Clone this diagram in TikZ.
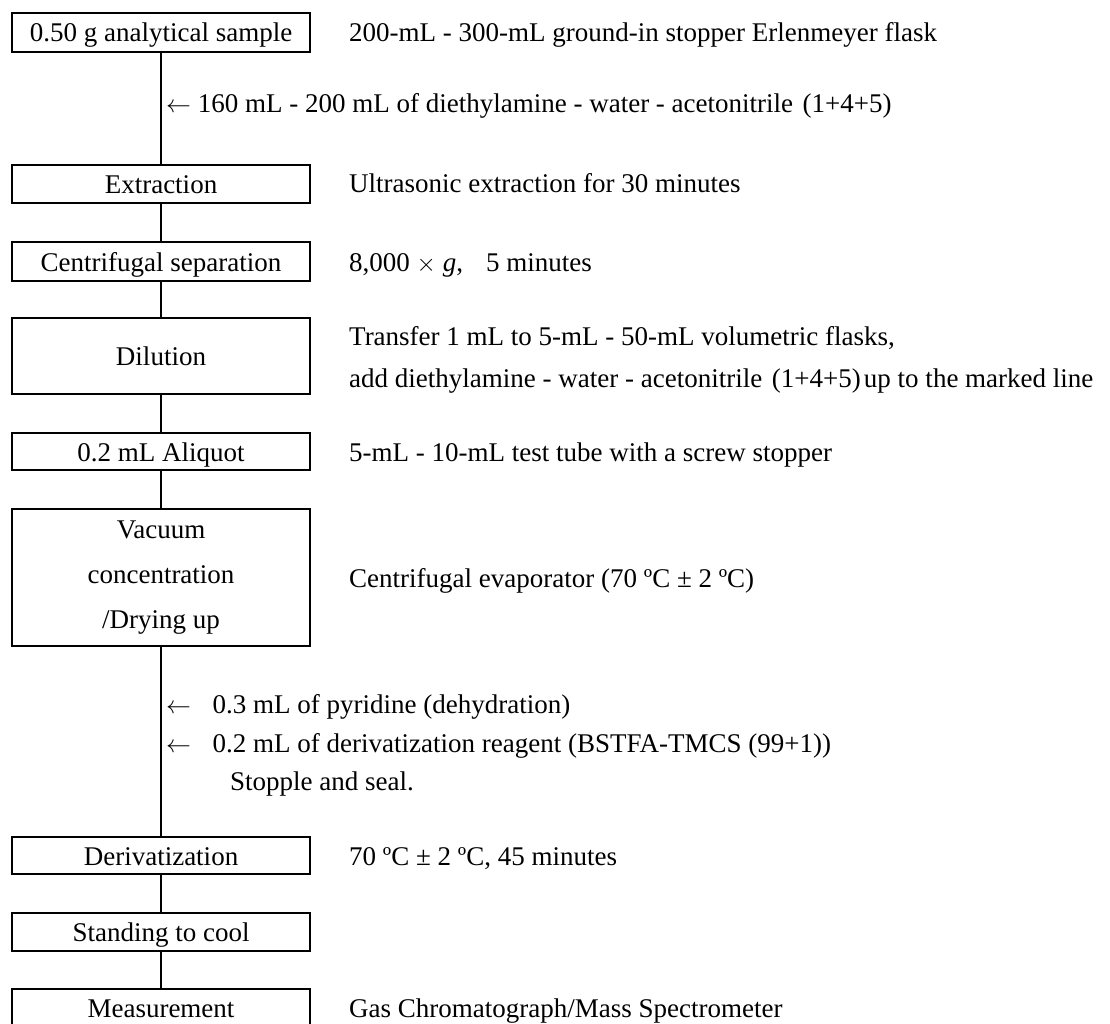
\documentclass[tikz,border=0pt]{standalone}
\usepackage{fontspec}
\setmainfont{Liberation Serif}
\newcommand{\fwl}{\hspace{0.35em}(}
\newcommand{\fwr}{)\hspace{0.12em}}
\begin{document}
\begin{tikzpicture}[x=1pt,y=-1pt,
  every node/.style={font=\fontsize{27}{42}\selectfont, inner sep=0pt},
  boxbase/.style={draw, line width=1.8pt, minimum width=298pt, align=center},
  stepbox/.style={boxbase, text height=24.5pt, text depth=5.5pt},
  side/.style={anchor=base west},
  conn/.style={line width=1.3pt}]
\useasboundingbox (0,0) rectangle (1110,1024);
% boxes
\node[stepbox, minimum height=39pt] (b1) at (161,32.5) {0.50 g analytical sample};
\node[stepbox, minimum height=38pt] (b2) at (161,184) {Extraction};
\node[stepbox, minimum height=39pt] (b3) at (161,261.5) {Centrifugal separation};
\node[stepbox, minimum height=76pt] (b4) at (161,356) {Dilution};
\node[stepbox, minimum height=37pt] (b5) at (161,451.5) {0.2 mL Aliquot};
\node[boxbase, minimum height=137pt, font=\fontsize{27}{45}\selectfont] (b6) at (161,577.5) {Vacuum\\concentration\\/Drying up};
\node[stepbox, minimum height=37pt] (b7) at (161,855.5) {Derivatization};
\node[stepbox, minimum height=38pt] (b8) at (161,932) {Standing to cool};
\node[stepbox, minimum height=38pt] (b9) at (161,1008) {Measurement};
% connectors
\draw[conn] (b1.south) -- (b2.north);
\draw[conn] (b2.south) -- (b3.north);
\draw[conn] (b3.south) -- (b4.north);
\draw[conn] (b4.south) -- (b5.north);
\draw[conn] (b5.south) -- (b6.north);
\draw[conn] (b6.south) -- (b7.north);
\draw[conn] (b7.south) -- (b8.north);
\draw[conn] (b8.south) -- (b9.north);
% side texts
\node[side] (t1) at (349,42) {200-mL - 300-mL ground-in stopper Erlenmeyer flask};
\node[side] (a1) at (166,113) {$\leftarrow$ 160 mL - 200 mL of diethylamine - water - acetonitrile\fwl 1+4+5\fwr};
\node[side] (t2) at (349,193) {Ultrasonic extraction for 30 minutes};
\node[side] (t3) at (349,271) {8,000 $\times$ \textit{g},\hspace{0.6em} 5 minutes};
\node[side] (t4a) at (349,345) {Transfer 1 mL to 5-mL - 50-mL volumetric flasks,};
\node[side] (t4b) at (349,387) {add diethylamine - water - acetonitrile\fwl 1+4+5\fwr up to the marked line};
\node[side] (t5) at (349,461) {5-mL - 10-mL test tube with a screw stopper};
\node[side] (t6) at (349,587) {Centrifugal evaporator (70 ºC ± 2 ºC)};
\node[side] (a2) at (166,713) {$\leftarrow$\hspace{0.8em}0.3 mL of pyridine (dehydration)};
\node[side] (a3) at (166,752) {$\leftarrow$\hspace{0.8em}0.2 mL of derivatization reagent (BSTFA-TMCS (99+1))};
\node[side] (a4) at (230,790) {Stopple and seal.};
\node[side] (t7) at (349,865) {70 ºC ± 2 ºC, 45 minutes};
\node[side] (t9) at (349,1017) {Gas Chromatograph/Mass Spectrometer};
\end{tikzpicture}
\end{document}
